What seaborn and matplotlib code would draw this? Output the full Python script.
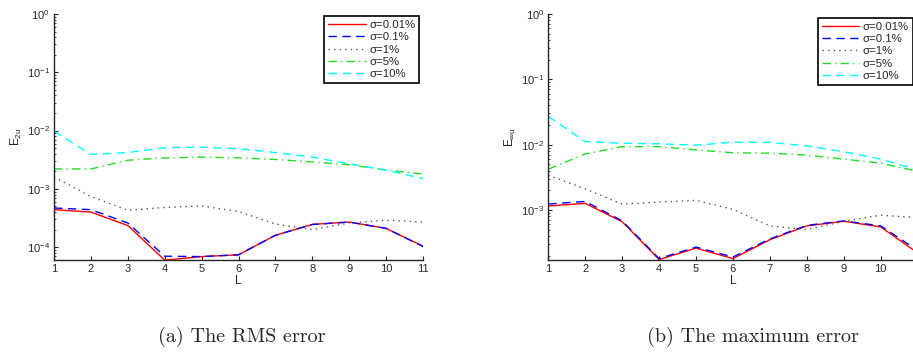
import numpy as np
import pandas as pd
import matplotlib
matplotlib.use('Agg')
import matplotlib.pyplot as plt
import seaborn as sns

# data
L = list(range(1, 12))
labels = ['σ=0.01%', 'σ=0.1%', 'σ=1%', 'σ=5%', 'σ=10%']

rms_001 = [4.4e-4, 4.0e-4, 2.35e-4, 6.0e-5, 6.9e-5, 7.4e-5, 1.6e-4, 2.46e-4, 2.7e-4, 2.1e-4, 1.04e-4]
rms_01 = [4.7e-4, 4.4e-4, 2.6e-4, 7.0e-5, 6.9e-5, 7.4e-5, 1.6e-4, 2.45e-4, 2.7e-4, 2.1e-4, 1.03e-4]
rms_1 = [1.6e-3, 7.4e-4, 4.3e-4, 4.8e-4, 5.1e-4, 4.1e-4, 2.5e-4, 2.0e-4, 2.6e-4, 2.9e-4, 2.7e-4]
rms_5 = [2.2e-3, 2.2e-3, 3.1e-3, 3.4e-3, 3.5e-3, 3.4e-3, 3.2e-3, 2.9e-3, 2.6e-3, 2.1e-3, 1.8e-3]
rms_10 = [9.8e-3, 3.9e-3, 4.2e-3, 5.1e-3, 5.2e-3, 4.9e-3, 4.2e-3, 3.5e-3, 2.7e-3, 2.1e-3, 1.5e-3]

max_001 = [1.15e-3, 1.26e-3, 6.6e-4, 1.74e-4, 2.6e-4, 1.8e-4, 3.5e-4, 5.7e-4, 6.7e-4, 5.5e-4, 2.2e-4]
max_01 = [1.23e-3, 1.35e-3, 6.8e-4, 1.8e-4, 2.7e-4, 1.9e-4, 3.6e-4, 5.8e-4, 6.8e-4, 5.7e-4, 2.4e-4]
max_1 = [3.4e-3, 2.1e-3, 1.23e-3, 1.32e-3, 1.4e-3, 1.02e-3, 5.7e-4, 5.0e-4, 6.7e-4, 8.3e-4, 7.6e-4]
max_5 = [4.2e-3, 7.2e-3, 9.3e-3, 9.3e-3, 8.3e-3, 7.5e-3, 7.4e-3, 6.9e-3, 6.0e-3, 5.2e-3, 3.9e-3]
max_10 = [2.7e-2, 1.11e-2, 1.05e-2, 1.03e-2, 9.8e-3, 1.09e-2, 1.08e-2, 9.6e-3, 7.8e-3, 6.0e-3, 4.1e-3]

colors = ['#ff0000', '#0000ff', '#555555', '#22dd22', '#00ffff']
styles = ['-', (0, (6, 4)), (0, (1, 3)), (0, (6, 3, 1, 3)), (0, (6, 4))]

sns.set_style('ticks')
plt.rcParams['font.family'] = ['Liberation Sans', 'DejaVu Sans']
plt.rcParams['xtick.direction'] = 'in'
plt.rcParams['ytick.direction'] = 'in'
plt.rcParams['mathtext.fontset'] = 'custom'
plt.rcParams['mathtext.rm'] = 'Liberation Sans'
plt.rcParams['mathtext.it'] = 'Liberation Sans'

fig = plt.figure(figsize=(9.13, 3.52), dpi=100)
W, H = 913, 352
ax1 = fig.add_axes([54 / W, (H - 259.7) / H, 369 / W, 245.7 / H])
ax2 = fig.add_axes([548.3 / W, (H - 259.7) / H, 369.3 / W, 245.7 / H])


def panel(ax, series, ylab, ybot, leg_xy):
    for vals, lab, c, ls in zip(series, labels, colors, styles):
        df = pd.DataFrame({'L': L, 'E': vals})
        sns.lineplot(data=df, x='L', y='E', ax=ax, color=c, linestyle=ls,
                     linewidth=1.0, label=lab)
    ax.set_yscale('log')
    ax.set_xlim(1, 11)
    ax.set_ylim(ybot, 1)
    ax.set_xticks(L)
    ax.tick_params(labelsize=8, length=3, width=0.8, pad=3)
    ax.tick_params(which='minor', length=1.5, width=0.6)
    for s in ['top', 'right']:
        ax.spines[s].set_visible(False)
    for s in ['left', 'bottom']:
        ax.spines[s].set_linewidth(1.0)
    ax.set_xlabel('L', fontsize=8.5, labelpad=1)
    ax.set_ylabel(ylab, fontsize=8.5, labelpad=2)
    leg = ax.legend(loc='upper left', bbox_to_anchor=leg_xy, fontsize=8.2,
                    handlelength=3.3, fancybox=False, framealpha=1,
                    edgecolor='black', borderpad=0.35, labelspacing=0.2,
                    handletextpad=0.3, borderaxespad=0)
    leg.get_frame().set_linewidth(1.2)


panel(ax1, [rms_001, rms_01, rms_1, rms_5, rms_10], r'E$_{2u}$', 6.1e-5, (0.732, 0.992))
panel(ax2, [max_001, max_01, max_1, max_5, max_10], r'E$_{\infty u}$', 1.73e-4, (0.730, 0.984))

fig.text(241.5 / W, 1 - 337 / H, '(a) The RMS error', ha='center', va='center',
         family=['cmr10', 'DejaVu Serif'], fontsize=14.5)
fig.text(753 / W, 1 - 337 / H, '(b) The maximum error', ha='center', va='center',
         family=['cmr10', 'DejaVu Serif'], fontsize=14.5)

plt.savefig('out.png', dpi=100)
